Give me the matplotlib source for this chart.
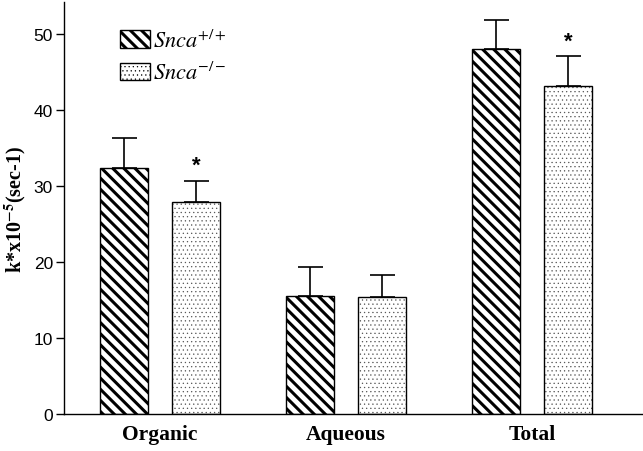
import numpy as np
import matplotlib
matplotlib.use("Agg")
import matplotlib.pyplot as plt
from matplotlib.patches import Patch

groups = ["Organic", "Aqueous", "Total"]
wt_mean = [32.4, 15.5, 48.0]
wt_err = [3.9, 3.8, 3.8]
ko_mean = [27.9, 15.4, 43.2]
ko_err = [2.8, 2.9, 3.9]
ko_star = [True, False, True]

plt.rcParams['mathtext.fontset'] = 'stix'

fig = plt.figure(figsize=(6.43, 4.52), dpi=100)
ax = fig.add_axes([64 / 643, 1 - 415 / 452, 1 - 64 / 643, 412 / 452])

x = np.arange(len(groups))
w = 0.258
off = 0.195
stripe = '\\\\\\'
dots = '....'

# striped bars (wild type)
plt.rcParams['hatch.linewidth'] = 2.2
ax.bar(x - off, wt_mean, w, color='white', edgecolor='black', linewidth=1.0,
       hatch=stripe, zorder=2)

# dotted bars (knockout): fine gray dots, then black outline on top
plt.rcParams['hatch.linewidth'] = 0.4
ax.bar(x + off, ko_mean, w, color='white', edgecolor='#555555', linewidth=0,
       hatch=dots, zorder=2)
ax.bar(x + off, ko_mean, w, fill=False, edgecolor='black', linewidth=1.0, zorder=3)

ax.errorbar(x - off, wt_mean, yerr=[np.zeros(3), wt_err], fmt='none',
            ecolor='black', elinewidth=1.2, capsize=9, capthick=1.2, zorder=1)
ax.errorbar(x + off, ko_mean, yerr=[np.zeros(3), ko_err], fmt='none',
            ecolor='black', elinewidth=1.2, capsize=9, capthick=1.2, zorder=1)

for i in range(len(groups)):
    if ko_star[i]:
        ax.text(x[i] + off, ko_mean[i] + ko_err[i] + 0.6, '*', ha='center',
                va='bottom', fontsize=16, fontweight='bold', family='Liberation Sans')

ax.set_xlim(-0.516, 2.597)
ax.set_ylim(0, 54.2)
ax.set_yticks([0, 10, 20, 30, 40, 50])
ax.set_xticks(x)
ax.set_xticklabels(groups, family='Liberation Serif', fontweight='bold', fontsize=15.5)
ax.tick_params(axis='x', length=0, pad=7)
ax.tick_params(axis='y', length=6, width=1, labelsize=12.5, direction='out', pad=2)
for lab in ax.get_yticklabels():
    lab.set_family('Liberation Sans')

ax.spines['top'].set_visible(False)
ax.spines['right'].set_visible(False)
ax.spines['left'].set_linewidth(1.0)
ax.spines['bottom'].set_linewidth(1.0)

ax.set_ylabel(r'k*x10$^{\mathbf{-5}}$(sec-1)', family='Liberation Serif',
              fontweight='bold', fontsize=14.5)
ax.yaxis.set_label_coords(-0.062, 0.5)

handles = [Patch(facecolor='white', edgecolor='black', hatch=stripe),
           Patch(facecolor='white', edgecolor='black', hatch=dots)]
labels = [r'$\mathit{Snca}^{+/+}$', r'$\mathit{Snca}^{-/-}$']
leg = ax.legend(handles, labels, loc='upper left',
                bbox_to_anchor=(0.062, 0.985), frameon=False, fontsize=16,
                handlelength=1.35, handleheight=0.85, handletextpad=0.15,
                labelspacing=0.45)
# thick stripes in the first legend box, thin dots in the second
leg.legend_handles[0].set_hatch_linewidth(2.2)
leg.legend_handles[1].set_hatch_linewidth(0.4)

fig.savefig('out.png', dpi=100)
